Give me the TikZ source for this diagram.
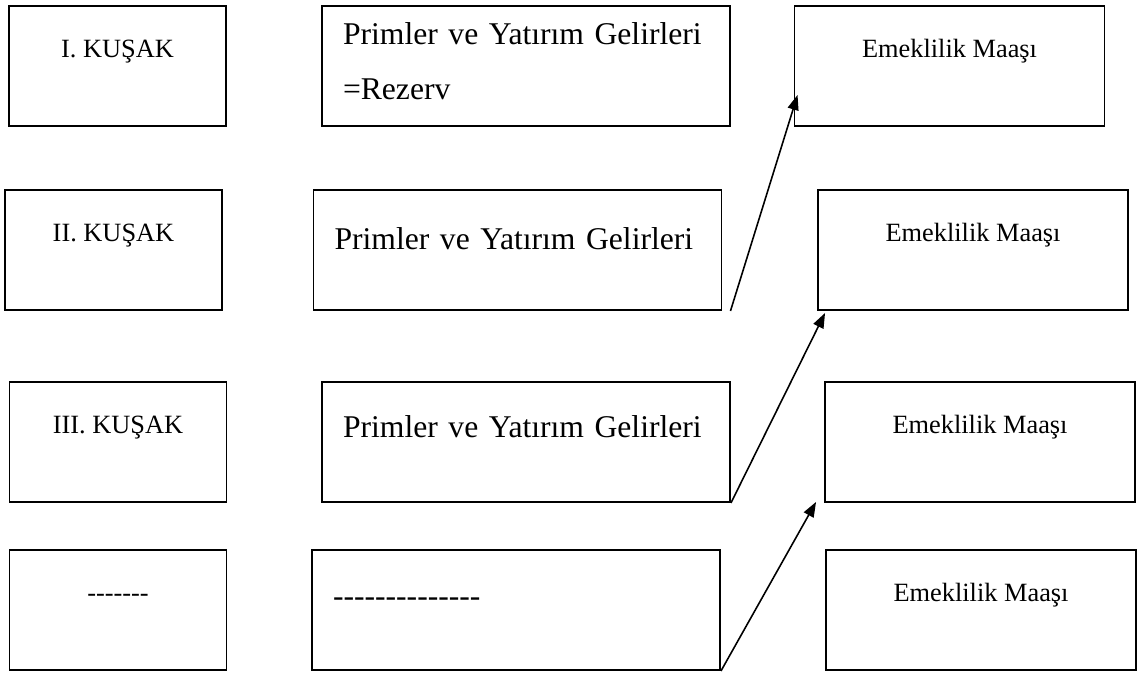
\documentclass[tikz,border=0pt]{standalone}
\usepackage{fontspec}
\setmainfont{Liberation Serif}
\usetikzlibrary{calc, arrows.meta, positioning}

\begin{document}
\begin{tikzpicture}[x=1cm,y=1cm,
    box/.style={draw, line width=1.1pt, minimum height=2.4cm, inner sep=0pt, text height=1.04cm, text depth=1.36cm},
    kbox/.style={box, minimum width=4.34cm, font=\fontsize{15}{18}\selectfont},
    pbox/.style={box, minimum width=8.16cm, text width=7.32cm, align=left, font=\fontsize{18}{21.6}\selectfont},
    mbox/.style={box, minimum width=6.2cm, font=\fontsize{15}{18}\selectfont},
    arr/.style={-{Triangle[length=0.3cm,width=0.22cm]}, line width=0.9pt}]
    \useasboundingbox (0,0) rectangle (22.76,13.46);
    % kusaklar
    \node[kbox] (k1) at (2.35,12.14) {I. KUŞAK};
    \node[kbox] (k2) at (2.27,8.46) {II. KUŞAK};
    \node[kbox] (k3) at (2.36,4.62) {III. KUŞAK};
    \node[kbox] (k4) at (2.36,1.26) {{-}{-}{-}{-}{-}{-}{-}};
    % primler
    \node[pbox, text height=0.78cm, text depth=1.62cm] (p1) at (10.52,12.14) {Primler ve Yatırım Gelirleri\\[9.6pt]=Rezerv};
    \node[pbox, text height=1.2cm, text depth=1.2cm] (p2) at (10.35,8.46) {Primler ve Yatırım Gelirleri};
    \node[pbox, text height=1.12cm, text depth=1.28cm] (p3) at (10.52,4.62) {Primler ve Yatırım Gelirleri};
    \node[pbox, text height=1.14cm, text depth=1.26cm] (p4) at (10.32,1.26) {{-}{-}{-}{-}{-}{-}{-}{-}{-}{-}{-}{-}{-}{-}};
    % emeklilik
    \node[mbox] (e1) at (18.99,12.14) {Emeklilik Maaşı};
    \node[mbox] (e2) at (19.46,8.46) {Emeklilik Maaşı};
    \node[mbox] (e3) at (19.6,4.62) {Emeklilik Maaşı};
    \node[mbox] (e4) at (19.62,1.26) {Emeklilik Maaşı};
    \draw[arr] ($(p2.south east)+(0.16,0)$) -- ($(e1.south west)+(0.08,0.64)$);
    \draw[arr] (p3.south east) -- ($(e2.south west)+(0.16,-0.04)$);
    \draw[arr] (p4.south east) -- ($(e3.south west)+(-0.16,0.02)$);
\end{tikzpicture}
\end{document}
